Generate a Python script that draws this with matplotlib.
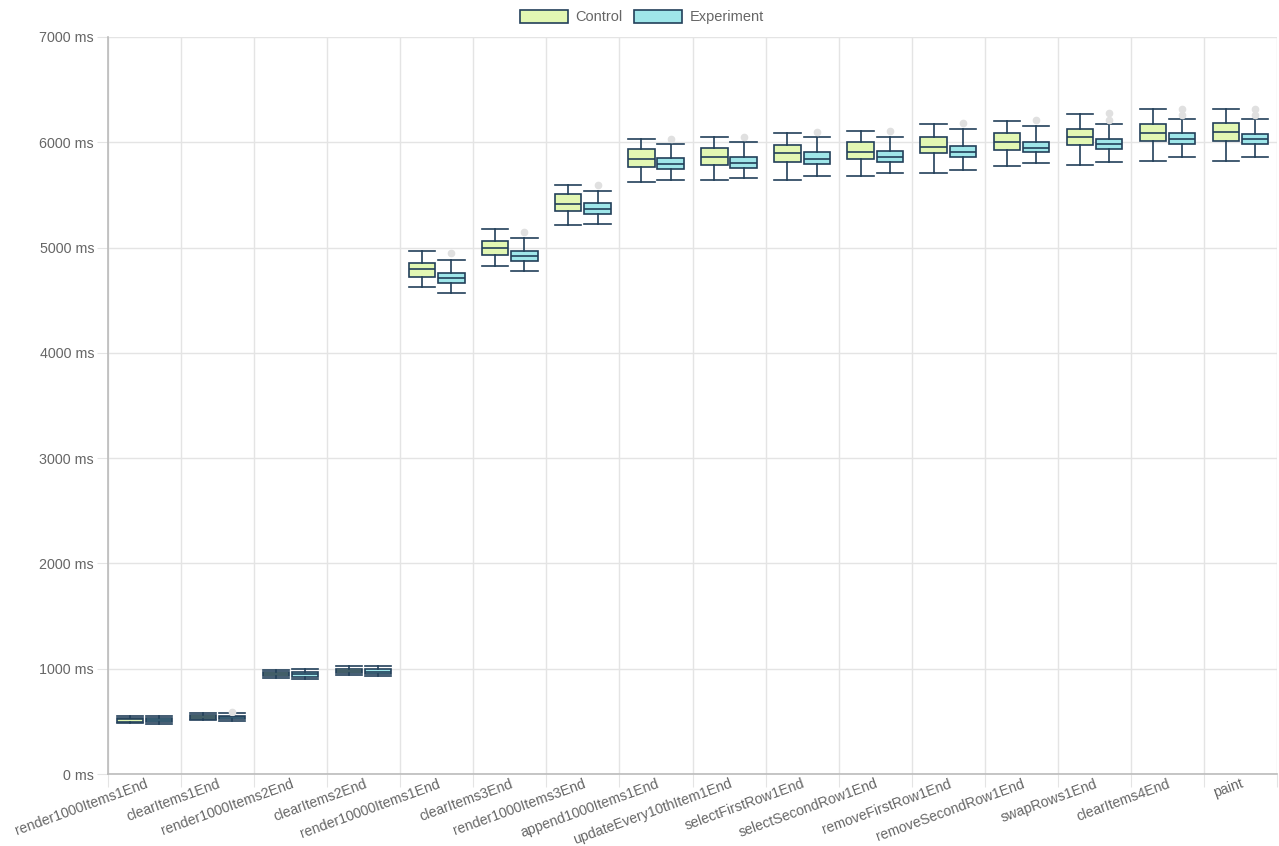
import numpy as np
import matplotlib.pyplot as plt
from matplotlib.patches import Patch

plt.rcParams['font.family'] = ['Liberation Sans', 'DejaVu Sans']

categories = ["render1000Items1End", "clearItems1End", "render1000Items2End", "clearItems2End",
              "render10000Items1End", "clearItems3End", "render1000Items3End", "append1000Items1End",
              "updateEvery10thItem1End", "selectFirstRow1End", "selectSecondRow1End", "removeFirstRow1End",
              "removeSecondRow1End", "swapRows1End", "clearItems4End", "paint"]

# Control: whisker low, q1, median, q3, whisker high
ctrl_low = [484, 513, 912, 940, 4623, 4828, 5214, 5620, 5639, 5645, 5683, 5708, 5772, 5787, 5822, 5825]
ctrl_q1 = [497, 522, 931, 959, 4718, 4930, 5347, 5768, 5784, 5816, 5838, 5895, 5924, 5971, 6012, 6015]
ctrl_med = [519, 544, 950, 978, 4794, 4993, 5417, 5841, 5857, 5895, 5911, 5958, 6000, 6047, 6091, 6094]
ctrl_q3 = [535, 560, 966, 997, 4851, 5059, 5509, 5933, 5949, 5977, 6003, 6053, 6085, 6129, 6177, 6180]
ctrl_high = [554, 582, 991, 1026, 4970, 5176, 5594, 6034, 6050, 6091, 6107, 6177, 6199, 6269, 6316, 6316]
ctrl_out = [[] for _ in categories]

# Experiment
exp_low = [475, 503, 902, 931, 4572, 4780, 5221, 5645, 5661, 5680, 5711, 5737, 5800, 5813, 5857, 5857]
exp_q1 = [494, 522, 924, 950, 4667, 4872, 5316, 5746, 5759, 5797, 5816, 5863, 5905, 5939, 5984, 5984]
exp_med = [510, 538, 947, 972, 4708, 4920, 5363, 5794, 5806, 5844, 5857, 5911, 5943, 5987, 6034, 6031]
exp_q3 = [529, 554, 966, 997, 4759, 4970, 5420, 5848, 5863, 5908, 5920, 5968, 6006, 6034, 6085, 6082]
exp_high = [548, 579, 997, 1029, 4882, 5091, 5537, 5984, 6006, 6047, 6053, 6123, 6152, 6174, 6221, 6224]
exp_out = [[], [589], [], [], [4945], [5145], [5594], [6028], [6047], [6095], [6110], [6187], [6209],
           [6275, 6215], [6319, 6256], [6319, 6259]]

CTRL_COLOR = "#e2f7b3"
EXP_COLOR = "#9fe6e9"
EDGE = "#22405a"
GRID = "#e4e4e4"
TEXT = "#666666"


def make_stats(low, q1, med, q3, high, out):
    return [dict(whislo=a, q1=b, med=c, q3=d, whishi=e, fliers=np.array(f))
            for a, b, c, d, e, f in zip(low, q1, med, q3, high, out)]


fig = plt.figure(figsize=(12.79, 8.46), dpi=100)
ax = fig.add_axes([108 / 1279, 72 / 846, 1169 / 1279, 737 / 846])

x = np.arange(len(categories))
line = dict(color=EDGE, linewidth=1.2)
flier = dict(marker='o', markersize=4.5, markerfacecolor='#e0e0e0', markeredgecolor='#e0e0e0')

for stats, off, fc in [(make_stats(ctrl_low, ctrl_q1, ctrl_med, ctrl_q3, ctrl_high, ctrl_out), -0.2, CTRL_COLOR),
                       (make_stats(exp_low, exp_q1, exp_med, exp_q3, exp_high, exp_out), 0.2, EXP_COLOR)]:
    ax.bxp(stats, positions=x + off, widths=0.36, patch_artist=True, showfliers=True,
           boxprops=dict(facecolor=fc, edgecolor=EDGE, linewidth=1.2),
           medianprops=line, whiskerprops=line, capprops=dict(color=EDGE, linewidth=1.2),
           flierprops=flier, capwidths=0.36, manage_ticks=False)

ax.set_xlim(-0.5, len(categories) - 0.5)
ax.set_ylim(0, 7000)
ax.set_yticks(np.arange(0, 7001, 1000))
ax.set_yticklabels([f"{v} ms" for v in range(0, 7001, 1000)])

# grid lines at category boundaries
ax.set_xticks(np.arange(len(categories) + 1) - 0.5)
ax.set_xticklabels([])
ax.set_xticks(x, minor=True)
ax.set_xticklabels(categories, minor=True, rotation=20, ha='right', rotation_mode='anchor')
ax.tick_params(axis='x', which='minor', length=0, pad=2, labelsize=10.2, labelcolor=TEXT)
ax.tick_params(axis='x', which='major', length=9, color=GRID)
ax.tick_params(axis='y', length=8, color=GRID, labelsize=10.3, labelcolor=TEXT, pad=2)

ax.grid(True, which='major', color=GRID, linewidth=1)
ax.set_axisbelow(True)
for s in ['top', 'right']:
    ax.spines[s].set_visible(False)
for s in ['left', 'bottom']:
    ax.spines[s].set_color('#bbbbbb')
    ax.spines[s].set_linewidth(1.2)

handles = [Patch(facecolor=CTRL_COLOR, edgecolor=EDGE, linewidth=1.2, label='Control'),
           Patch(facecolor=EXP_COLOR, edgecolor=EDGE, linewidth=1.2, label='Experiment')]
fig.legend(handles=handles, loc='center', bbox_to_anchor=(642 / 1279, 1 - 17 / 846), ncol=2,
           frameon=False, fontsize=10.5, labelcolor=TEXT, handlelength=3.3, handleheight=1.05,
           handletextpad=0.5, columnspacing=0.8)

fig.savefig("out.png", dpi=100)
